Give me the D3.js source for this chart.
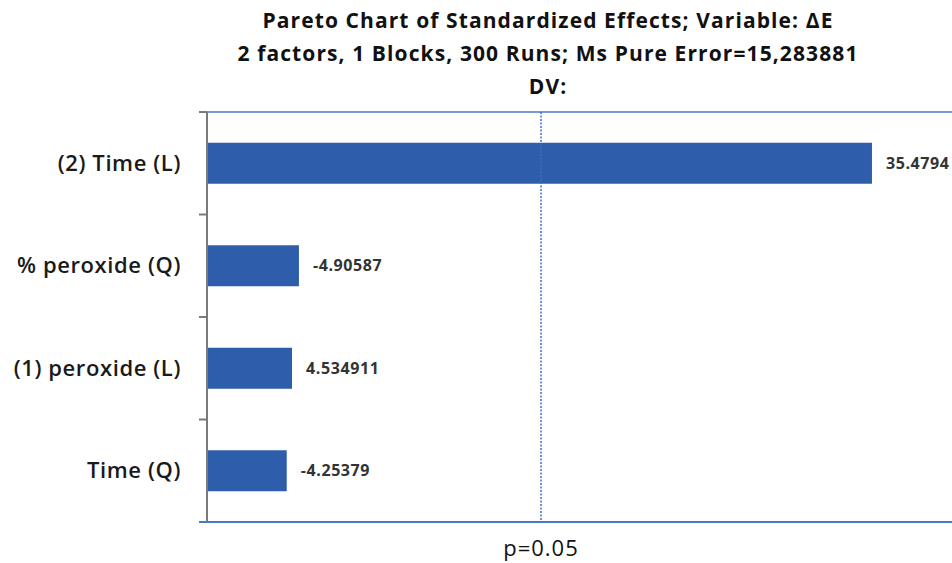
<!DOCTYPE html>
<html>
<head>
<meta charset="utf-8">
<script src="https://cdn.jsdelivr.net/npm/d3@7"></script>
<style>
  body { margin: 0; background: #fff; }
  text { font-family: "Open Sans", Lato, sans-serif; }
</style>
</head>
<body>
<div class="graphics"></div>
<script>
// effects, in chart order (top to bottom)
var factors = ["(2) Time (L)", "% peroxide (Q)", "(1) peroxide (L)", "Time (Q)"];
var effects = [35.4794, -4.90587, 4.534911, -4.25379];
var effectLabels = ["35.4794", "-4.90587", "4.534911", "-4.25379"];
var pLine = 17.82;
var xMax = 39.75;
var titleLines = [
  "Pareto Chart of Standardized Effects; Variable: \u0394E",
  "2 factors, 1 Blocks, 300 Runs; Ms Pure Error=15,283881",
  "DV:"
];

function pareto() {
  var W = 952, H = 563;
  var margin = {top: 112, right: 0, bottom: 41, left: 207};

  var svg = d3.select(".graphics")
    .append("svg")
    .attr("width", W)
    .attr("height", H);

  var x = d3.scaleLinear()
    .domain([0, xMax])
    .range([margin.left, W - margin.right]);

  var y = d3.scaleBand()
    .domain(factors)
    .range([margin.top, H - margin.bottom])
    .paddingInner(0.6)
    .paddingOuter(0.3);

  // title
  svg.append("g").selectAll("text")
    .data(titleLines)
    .enter()
    .append("text")
      .attr("x", 548)
      .attr("y", function(d, i) { return 28 + i * 33; })
      .attr("text-anchor", "middle")
      .style("font-size", "21px")
      .style("font-weight", "bold")
      .style("letter-spacing", "1.1px")
      .style("fill", "#111")
      .text(function(d) { return d; });

  // top frame line
  svg.append("line")
    .attr("x1", x(0)).attr("x2", x(xMax))
    .attr("y1", margin.top).attr("y2", margin.top)
    .attr("stroke", "#4a78c2").attr("stroke-width", 1.5);

  // bars
  svg.selectAll("rect.bar")
    .data(factors)
    .enter()
    .append("rect")
      .attr("class", "bar")
      .attr("x", x(0))
      .attr("y", function(d) { return y(d); })
      .attr("width", function(d, i) { return x(Math.abs(effects[i])) - x(0); })
      .attr("height", y.bandwidth())
      .style("fill", "#2e5dab");

  // significance line
  svg.append("line")
    .attr("x1", x(pLine)).attr("x2", x(pLine))
    .attr("y1", margin.top).attr("y2", H - margin.bottom)
    .attr("stroke", "#3f6fbf")
    .attr("stroke-width", 1.5)
    .attr("stroke-dasharray", "2,1.5");

  // y axis with ticks between categories
  var step = y.step();
  var tickYs = factors.map(function(d) { return y(d) - step * 0.3; });
  tickYs.push(H - margin.bottom);
  svg.append("line")
    .attr("x1", x(0)).attr("x2", x(0))
    .attr("y1", margin.top).attr("y2", H - margin.bottom)
    .attr("stroke", "#7a7a7a").attr("stroke-width", 2);
  svg.selectAll("line.tick")
    .data(tickYs)
    .enter()
    .append("line")
      .attr("class", "tick")
      .attr("x1", x(0) - 8).attr("x2", x(0))
      .attr("y1", function(d) { return d; })
      .attr("y2", function(d) { return d; })
      .attr("stroke", "#7a7a7a").attr("stroke-width", 2);

  // x axis (bottom line)
  svg.append("line")
    .attr("x1", x(0) - 8).attr("x2", x(xMax))
    .attr("y1", H - margin.bottom).attr("y2", H - margin.bottom)
    .attr("stroke", "#4a78c2").attr("stroke-width", 2);

  // category labels
  svg.selectAll("text.cat")
    .data(factors)
    .enter()
    .append("text")
      .attr("class", "cat")
      .attr("x", 181)
      .attr("y", function(d) { return y(d) + y.bandwidth() / 2; })
      .attr("dy", "0.35em")
      .attr("text-anchor", "end")
      .style("font-size", "22px")
      .style("font-weight", "600")
      .style("letter-spacing", "0.6px")
      .style("fill", "#1a1a1a")
      .text(function(d) { return d; });

  // value labels
  svg.selectAll("text.val")
    .data(factors)
    .enter()
    .append("text")
      .attr("class", "val")
      .attr("x", function(d, i) { return x(Math.abs(effects[i])) + 14; })
      .attr("y", function(d) { return y(d) + y.bandwidth() / 2; })
      .attr("dy", "0.35em")
      .style("font-size", "16px")
      .style("font-weight", "bold")
      .style("letter-spacing", "0.6px")
      .style("fill", "#333")
      .text(function(d, i) { return effectLabels[i]; });

  // p label
  svg.append("text")
    .attr("x", x(pLine))
    .attr("y", 556)
    .attr("text-anchor", "middle")
    .style("font-size", "22px")
    .style("letter-spacing", "1px")
    .style("fill", "#111")
    .text("p=0.05");
}

pareto();
</script>
</body>
</html>
